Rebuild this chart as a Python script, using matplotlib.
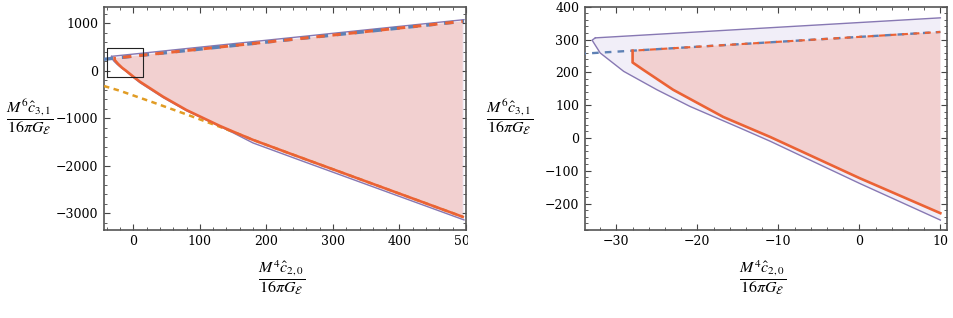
import matplotlib
matplotlib.use("Agg")
import matplotlib.pyplot as plt
from matplotlib.transforms import Bbox, TransformedBbox
from matplotlib.ticker import MultipleLocator, FuncFormatter

plt.rcParams['mathtext.fontset'] = 'stix'
plt.rcParams['font.family'] = 'DejaVu Serif'

# outer (purple) allowed region: upper edge, then tip and lower edge
purple_up_x = [-32.6, 10, 497]
purple_up_y = [305, 366, 1077]
purple_lo_x = [-32.6, -33.0, -32.0, -29.1, -25.0, -20.9, -14.7, -11, 0, 10,
               45, 80, 130, 150, 180, 250, 497]
purple_lo_y = [305, 298, 259, 203, 147, 96, 30, -10, -138, -250,
               -565, -840, -1170, -1305, -1520, -1880, -3140]

# blue dashed bound
blue_x = [-44, 10, 497]
blue_y = [242, 323, 1044]

# red region: top edge (on the blue bound) and lower edge
red_top_x = [-28, 10, 495]
red_top_y = [266, 323, 1041]
red_lo_x = [-28, -28, -26.7, -23, -16.8, -11, 0, 10, 45, 80, 130, 155, 180, 235, 495]
red_lo_y = [266, 230, 208, 147, 64, 3, -122, -229, -547, -827, -1160, -1310,
            -1455, -1740, -3074]

# orange dashed bound (left panel only)
orange_x = [-44, -20, 30, 80, 130, 160, 180, 235, 495]
orange_y = [-320, -421, -666, -918, -1179, -1340, -1455, -1740, -3074]

# zoom box drawn in the left panel
box_x = [-39, 14, 14, -39, -39]
box_y = [-139, -139, 471, 471, -139]

PURPLE = '#8778B3'
BLUE = '#5E81B5'
ORANGE = '#E19C24'
RED = '#EB6235'
PINK = '#f2d0d0'
LAVENDER = '#f1eef8'


def upto(xs, ys, xmax):
    pts = [(a, b) for a, b in zip(xs, ys) if a <= xmax]
    return [p[0] for p in pts], [p[1] for p in pts]


def draw(ax, xmax, top_lw, orange=False, box=False):
    pux, puy = upto(purple_up_x, purple_up_y, xmax)
    plx, ply = upto(purple_lo_x, purple_lo_y, xmax)
    rtx, rty = upto(red_top_x, red_top_y, xmax)
    rlx, rly = upto(red_lo_x, red_lo_y, xmax)
    bx, by = upto(blue_x, blue_y, xmax)

    ax.fill(pux + plx[::-1], puy + ply[::-1], color=LAVENDER, lw=0, zorder=1)
    ax.fill(rtx + rlx[::-1], rty + rly[::-1], color=PINK, lw=0, zorder=2)

    ax.plot(pux, puy, color=PURPLE, lw=1.0, zorder=3)
    ax.plot(plx, ply, color=PURPLE, lw=1.0, zorder=3)
    if orange:
        ax.plot(orange_x, orange_y, color=ORANGE, lw=1.8,
                linestyle=(0, (2.2, 1.8)), zorder=4)
    ax.plot(bx, by, color=BLUE, lw=top_lw, linestyle=(0, (2.8, 2.6)), zorder=5)
    ax.plot(rtx, rty, color=RED, lw=top_lw * 0.9, linestyle=(2.6, (2.8, 2.6)),
            zorder=6)
    ax.plot(rlx, rly, color=RED, lw=1.9, zorder=6)
    if box:
        ax.plot(box_x, box_y, color='#222222', lw=0.8, zorder=7)


def fmt(v, pos):
    v = int(round(v))
    return ('\u2212' + str(-v)) if v < 0 else str(v)


def style(ax, xmaj, xmin, ymaj, ymin):
    ax.xaxis.set_major_locator(MultipleLocator(xmaj))
    ax.xaxis.set_minor_locator(MultipleLocator(xmin))
    ax.yaxis.set_major_locator(MultipleLocator(ymaj))
    ax.yaxis.set_minor_locator(MultipleLocator(ymin))
    ax.xaxis.set_major_formatter(FuncFormatter(fmt))
    ax.yaxis.set_major_formatter(FuncFormatter(fmt))
    ax.tick_params(which='both', direction='in', top=True, right=True,
                   color='#444444', labelsize=9, pad=4)
    ax.tick_params(which='major', length=4.5, width=0.8)
    ax.tick_params(which='minor', length=2.5, width=0.6)
    for s in ax.spines.values():
        s.set_color('#555555')
        s.set_linewidth(1.2)


fig = plt.figure(figsize=(9.54, 3.18), dpi=100)
ax1 = fig.add_axes([0.109, 0.277, 0.3795, 0.702])
ax2 = fig.add_axes([0.613, 0.277, 0.380, 0.702])

draw(ax1, 1000, 2.4, orange=True, box=True)
ax1.set_xlim(-44, 500)
ax1.set_ylim(-3350, 1350)
style(ax1, 100, 20, 1000, 200)

draw(ax2, 10, 1.7)
ax2.set_xlim(-33.9, 10.86)
ax2.set_ylim(-280, 400)
style(ax2, 10, 2, 100, 20)

ylab = r'$\dfrac{M^6\hat{c}_{3,1}}{16\pi G_{\mathcal{E}}}$'
xlab = r'$\dfrac{M^4\hat{c}_{2,0}}{16\pi G_{\mathcal{E}}}$'
fig.text(0.031, 0.632, ylab, ha='center', va='center', fontsize=11.5)
fig.text(0.534, 0.632, ylab, ha='center', va='center', fontsize=11.5)
fig.text(0.2956, 0.126, xlab, ha='center', va='center', fontsize=11.5)
fig.text(0.7995, 0.126, xlab, ha='center', va='center', fontsize=11.5)

# the last x label of the left panel is cut at the image edge in the original
fig.canvas.draw()
clip = TransformedBbox(Bbox([[0, 0], [0.4905, 1]]), fig.transFigure)
for lab in ax1.get_xticklabels():
    if lab.get_text() == '500':
        lab.set_clip_on(True)
        lab.set_clip_box(clip)

fig.savefig('out.png', dpi=100)
